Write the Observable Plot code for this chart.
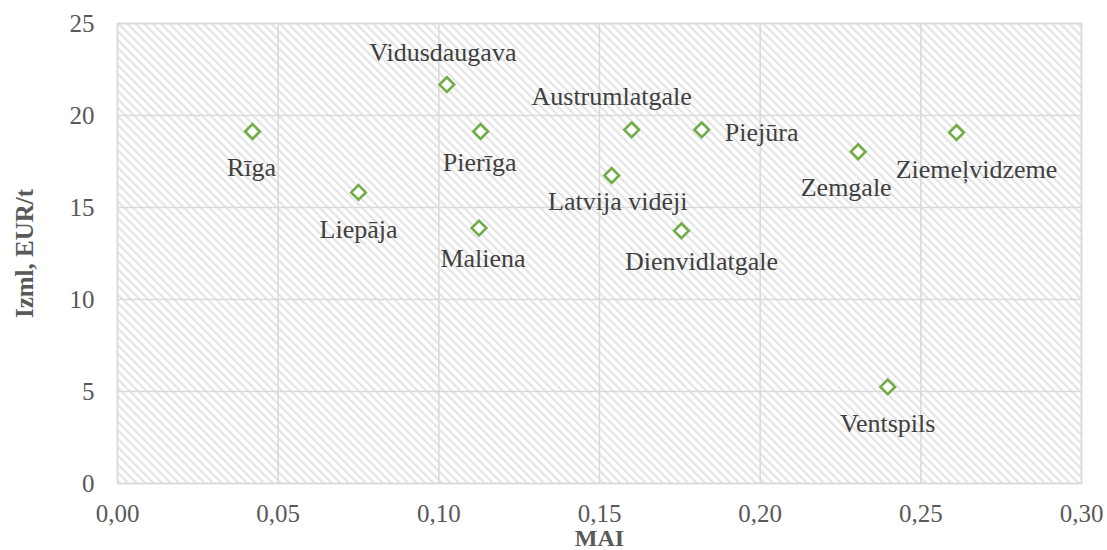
<!DOCTYPE html>
<html>
<head>
<meta charset="utf-8">
<script src="https://cdn.jsdelivr.net/npm/d3@7"></script>
<script src="https://cdn.jsdelivr.net/npm/@observablehq/plot@0.6"></script>
<style>
  html, body { margin: 0; padding: 0; background: #fff; }
  #chart { width: 1107px; height: 550px; }
</style>
</head>
<body>
<div id="chart"></div>
<script>
// ---- data ----
const regions = ["Rīga", "Liepāja", "Vidusdaugava", "Pierīga", "Maliena", "Latvija vidēji",
  "Austrumlatgale", "Piejūra", "Dienvidlatgale", "Zemgale", "Ziemeļvidzeme", "Ventspils"];
const maiValues = [0.042, 0.075, 0.1025, 0.113, 0.1125, 0.1538, 0.160, 0.1818, 0.1755, 0.2305, 0.2611, 0.2397];
const izmlValues = [19.13, 15.82, 21.68, 19.13, 13.88, 16.74, 19.22, 19.22, 13.73, 18.03, 19.07, 5.25];
const xTicks = [0, 0.05, 0.10, 0.15, 0.20, 0.25, 0.30];
const yTicks = [0, 5, 10, 15, 20, 25];

// ---- label layout (dx, dy in px, relative to the point) ----
const labelOffsets = {
  "Rīga": [-1, 36], "Liepāja": [0, 37], "Vidusdaugava": [-4, -32], "Pierīga": [-1, 31],
  "Maliena": [4, 31], "Latvija vidēji": [6, 26], "Austrumlatgale": [-20, -33],
  "Piejūra": [60, 3], "Dienvidlatgale": [20, 31], "Zemgale": [-12, 36],
  "Ziemeļvidzeme": [20, 37], "Ventspils": [0, 37]
};

const data = regions.map((name, i) => ({ name, mai: maiValues[i], izml: izmlValues[i] }));

const fmt = d => d.toFixed(2).replace(".", ",");
const FONT = "Liberation Serif";

// group labels by offset so each group is one text mark
const groups = d3.groups(data, d => labelOffsets[d.name].join(","));
const textMarks = groups.map(([key, rows]) => {
  const [dx, dy] = key.split(",").map(Number);
  return Plot.text(rows, {
    x: "mai", y: "izml", text: "name", dx, dy,
    fill: "#404040", fontSize: 26, fontFamily: FONT, textAnchor: "middle", lineAnchor: "middle"
  });
});

const plot = Plot.plot({
  width: 1107,
  height: 550,
  marginLeft: 117,
  marginRight: 26,
  marginTop: 23,
  marginBottom: 67,
  style: "font-family: 'Liberation Serif', serif; font-size: 25px; background: #fff;",
  x: { domain: [0, 0.30], ticks: xTicks, tickFormat: fmt, label: null },
  y: { domain: [0, 25], ticks: yTicks, label: null },
  marks: [
    Plot.frame({ fill: "url(#hatch)", stroke: "none" }),
    Plot.gridX(xTicks, { stroke: "#d9d9d9", strokeOpacity: 1, strokeWidth: 1.5 }),
    Plot.gridY(yTicks, { stroke: "#d9d9d9", strokeOpacity: 1, strokeWidth: 1.5 }),
    Plot.frame({ stroke: "#d9d9d9", strokeWidth: 1.5 }),
    Plot.axisX(xTicks, { tickSize: 0, tickPadding: 21, tickFormat: fmt, fill: "#595959", fontSize: 25, fontFamily: FONT, label: null }),
    Plot.axisY(yTicks, { tickSize: 0, tickPadding: 23, fill: "#595959", fontSize: 25, fontFamily: FONT, label: null }),
    Plot.dot(data, { x: "mai", y: "izml", symbol: "diamond2", r: 6.6, stroke: "#70ad47", strokeWidth: 2.6, fill: "white" }),
    ...textMarks,
    Plot.text(["MAI"], { frameAnchor: "bottom", dy: 55, lineAnchor: "middle", textAnchor: "middle", text: d => d, fontWeight: "bold", fontSize: 24, fontFamily: FONT, fill: "#595959" }),
    Plot.text(["Izml, EUR/t"], { frameAnchor: "left", dx: -93, rotate: -90, lineAnchor: "middle", textAnchor: "middle", text: d => d, fontWeight: "bold", fontSize: 25, fontFamily: FONT, fill: "#595959" })
  ]
});

// hatch pattern definition
const ns = "http://www.w3.org/2000/svg";
const defs = document.createElementNS(ns, "defs");
const pat = document.createElementNS(ns, "pattern");
pat.setAttribute("id", "hatch");
pat.setAttribute("patternUnits", "userSpaceOnUse");
pat.setAttribute("width", "6");
pat.setAttribute("height", "6");
pat.setAttribute("patternTransform", "rotate(-45)");
const bg = document.createElementNS(ns, "rect");
bg.setAttribute("width", "6"); bg.setAttribute("height", "6"); bg.setAttribute("fill", "#ffffff");
const ln = document.createElementNS(ns, "rect");
ln.setAttribute("x", "0"); ln.setAttribute("y", "0"); ln.setAttribute("width", "2.2"); ln.setAttribute("height", "6");
ln.setAttribute("fill", "#e4e4e4");
pat.appendChild(bg); pat.appendChild(ln);
defs.appendChild(pat);
plot.insertBefore(defs, plot.firstChild);

document.getElementById("chart").appendChild(plot);
</script>
</body>
</html>
